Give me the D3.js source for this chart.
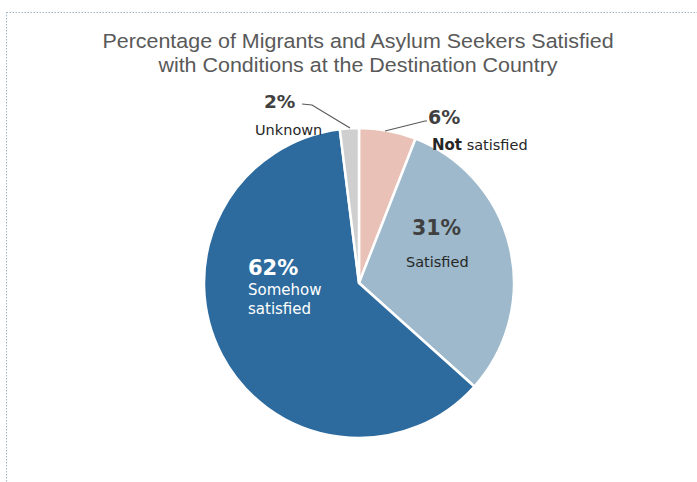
<!DOCTYPE html>
<html><head><meta charset="utf-8">
<script src="https://cdn.jsdelivr.net/npm/d3@7/dist/d3.min.js"></script>
<style>html,body{margin:0;padding:0;background:#fff;}svg{display:block;}</style>
</head><body>
<script>
const categories = ["Not satisfied", "Satisfied", "Somehow satisfied", "Unknown"];
const values = [6, 31, 62, 2];
const valueLabels = ["6%", "31%", "62%", "2%"];
const colors = ["#E9C1B6", "#9DB9CB", "#2D6B9E", "#CFCFCF"];
const titleLines = ["Percentage of Migrants and Asylum Seekers Satisfied", "with Conditions at the Destination Country"];

const W = 697, H = 482;
const svg = d3.select("body").append("svg").attr("width", W).attr("height", H);

// frame
svg.append("rect").attr("x", 6.5).attr("y", 12.5).attr("width", W + 10).attr("height", H + 10)
  .attr("fill", "none").attr("stroke", "#9fb4c6").attr("stroke-width", 1).attr("stroke-dasharray", "1.5,1.5");

// title
svg.append("g").attr("transform", "translate(358,0) scale(1.1,1)")
  .append("text").attr("x", 0).attr("y", 48).attr("text-anchor", "middle")
  .attr("font-family", "Liberation Sans, Arial, sans-serif").attr("font-size", 19.5).attr("fill", "#595959")
  .selectAll("tspan").data(titleLines).join("tspan")
  .attr("x", 0).attr("dy", (d, i) => i === 0 ? 0 : 24).text(d => d);

const cx = 359, cy = 283, R = 155;
const g = svg.append("g").attr("transform", `translate(${cx},${cy})`);
const pie = d3.pie().sort(null).value(d => d)(values);
const arc = d3.arc().innerRadius(0).outerRadius(R);
g.selectAll("path").data(pie).join("path")
  .attr("d", arc).attr("fill", (d, i) => colors[i])
  .attr("stroke", "#fff").attr("stroke-width", 2.5).attr("stroke-linejoin", "round");

// label layout (relative to pie centre)
const font = "DejaVu Sans, Verdana, sans-serif";
const layout = [
  { pct: [69, -159], pctSize: 19, name: [{t: "Not", w: "bold", s: 15}, {t: " satisfied", w: "normal", s: 14.5}], nameXY: [73, -133], fill: "#404040", nameFill: "#262626",
    leader: [[26, -152], [66, -162], [68, -162]] },
  { pct: [53, -48], pctSize: 20.5, nameXY: [47, -16], fill: "#404040", nameFill: "#262626" },
  { pct: [-111, -8], pctSize: 21, nameXY: [-111, 12], nameLines: ["Somehow", "satisfied"], fill: "#ffffff", nameFill: "#ffffff" },
  { pct: [-95, -175], pctSize: 18.5, nameXY: [-104, -148], fill: "#404040", nameFill: "#262626",
    leader: [[-57, -179], [-47, -178], [-9, -155]] }
];

pie.forEach((a, i) => {
  const L = layout[i];
  if (L.leader) {
    g.append("path").attr("d", d3.line()(L.leader)).attr("fill", "none").attr("stroke", "#595959").attr("stroke-width", 1.2);
  }
  g.append("text").attr("x", L.pct[0]).attr("y", L.pct[1])
    .attr("font-family", font).attr("font-weight", "bold").attr("font-size", L.pctSize)
    .attr("fill", L.fill).text(valueLabels[i]);
  const t = g.append("text").attr("x", L.nameXY[0]).attr("y", L.nameXY[1])
    .attr("font-family", font).attr("font-size", i === 2 ? 15 : 14.5).attr("fill", L.nameFill);
  if (L.name) {
    t.selectAll("tspan").data(L.name).join("tspan").attr("font-size", d => d.s).attr("font-weight", d => d.w).text(d => d.t);
  } else if (L.nameLines) {
    t.selectAll("tspan").data(L.nameLines).join("tspan").attr("x", L.nameXY[0]).attr("dy", (d, j) => j ? 19 : 0).text(d => d);
  } else {
    t.text(categories[i]);
  }
});
</script>
</body></html>
